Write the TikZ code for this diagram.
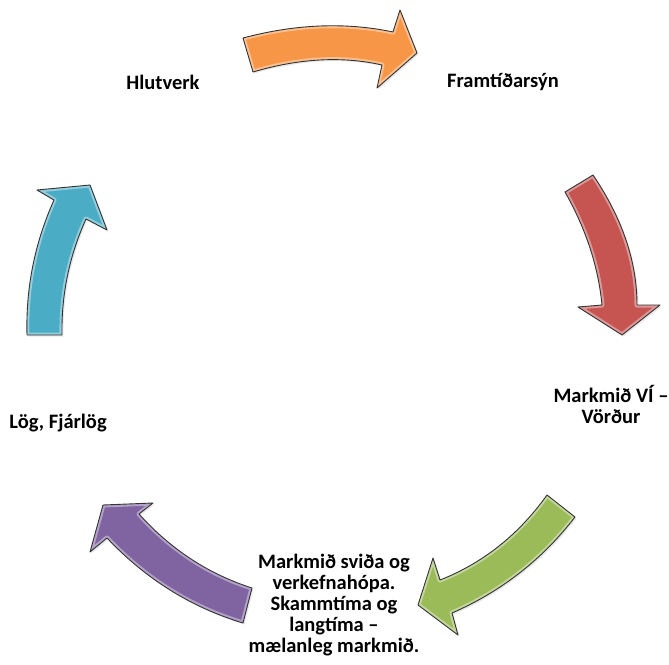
\documentclass[tikz,border=0pt]{standalone}
\usepackage{fontspec}
\setmainfont{Carlito}
\usetikzlibrary{shadows}
\definecolor{arrorange}{RGB}{247,150,70}
\definecolor{arrred}{RGB}{198,84,81}
\definecolor{arrgreen}{RGB}{155,187,89}
\definecolor{arrpurple}{RGB}{128,100,162}
\definecolor{arrblue}{RGB}{75,172,198}

\begin{document}
\begin{tikzpicture}[x=1pt,y=-1pt,
  node font=\bfseries\fontsize{20.5}{21}\selectfont,
  blockarr/.style={line join=round,
    drop shadow={shadow xshift=1.5pt,shadow yshift=-1.5pt,opacity=0.3},
    postaction={draw=white,opacity=0.4,line width=5pt,line join=round},
    postaction={draw=black!80,line width=0.9pt,line join=round}},
  lbl/.style={align=center,inner sep=0pt}]
			\useasboundingbox (0,0) rectangle (669,664);

			% labels
			\node[lbl] (hlut) at (163,82) {Hlutverk};
			\node[lbl] (fram) at (503,82) {Framtíðarsýn};
			\node[lbl] (vi) at (611,404) {Markmið VÍ –\\Vörður};
			\node[lbl] (svid) at (334,605) {Markmið sviða og\\verkefnahópa.\\Skammtíma og\\langtíma –\\mælanleg markmið.};
			\node[lbl] (log) at (58,423) {Lög, Fjárlög};

			% orange
			\fill[blockarr,arrorange] (243,38) .. controls (295.7,24) and (345.7,22) .. (393,32)
				-- (400,10) -- (417,53) -- (377,88) -- (382,65)
				.. controls (342.3,56) and (299.3,58.3) .. (253,72) -- cycle;
			% red
			\fill[blockarr,arrred] (565,192) -- (593,175) .. controls (622.3,218.3) and (637,261.7) .. (637,305)
				-- (660,305) -- (622,335) -- (578,307) -- (602,305)
				.. controls (598.3,266.7) and (586,229) .. (565,192) -- cycle;
			% green
			\fill[blockarr,arrgreen] (547,495) -- (575,517) .. controls (542.3,559.5) and (501.3,591.5) .. (452,613)
				-- (458,635) -- (418,605) -- (433,558) -- (440,580)
				.. controls (483,563) and (518.7,534.7) .. (547,495) -- cycle;
			% purple
			\fill[blockarr,arrpurple] (243,623) -- (252,588) .. controls (208.3,574) and (170.7,549.3) .. (139,514)
				-- (153,503) -- (103,505) -- (90,552) -- (107,538)
				.. controls (145.7,579) and (191,607.3) .. (243,623) -- cycle;
			% blue
			\fill[blockarr,arrblue] (27,335) .. controls (25.7,288) and (34.7,243) .. (54,200)
				-- (37,190) -- (90,185) -- (107,230) -- (86,219)
				.. controls (69.3,255.9) and (61.3,294.6) .. (62,335) -- cycle;
		\end{tikzpicture}
\end{document}
